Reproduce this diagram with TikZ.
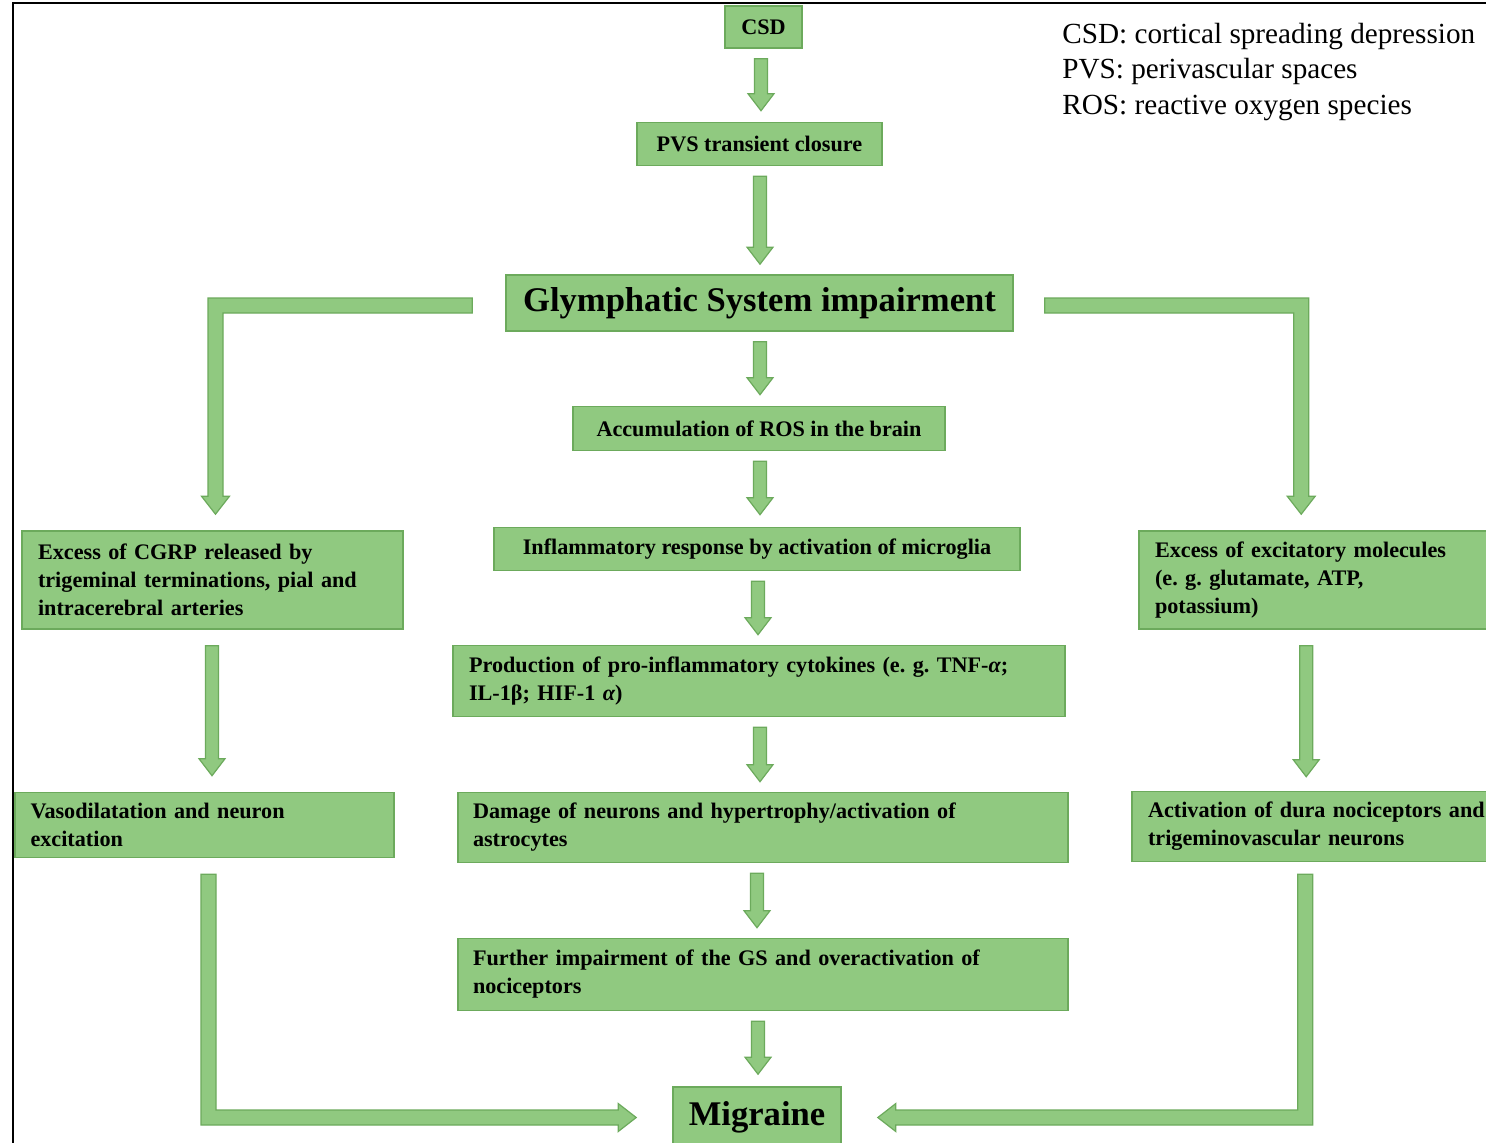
\documentclass[tikz,border=0pt]{standalone}
\usepackage{fontspec}
\setmainfont{Liberation Serif}
\usetikzlibrary{calc}
\definecolor{gfill}{RGB}{144,201,128}
\definecolor{gdraw}{RGB}{108,170,92}
% straight block arrow pointing down; tip x taken from #2
\newcommand{\dnarrow}[2]{%
  \path[blk] let \p1=(#1), \p2=(#2) in
    (\x2-3.25pt,\y1) -- (\x2+3.25pt,\y1) -- (\x2+3.25pt,\y2+8.5pt) -- (\x2+6.5pt,\y2+8.5pt)
    -- (\x2,\y2) -- (\x2-6.5pt,\y2+8.5pt) -- (\x2-3.25pt,\y2+8.5pt) -- cycle;}
% elbow: from start go left, then down to tip
\newcommand{\leftdown}[2]{%
  \path[blk] let \p1=(#1), \p2=(#2) in
    (\x1,\y1+3.75pt) -- (\x2-3.75pt,\y1+3.75pt) -- (\x2-3.75pt,\y2+9pt) -- (\x2-7pt,\y2+9pt)
    -- (\x2,\y2) -- (\x2+7pt,\y2+9pt) -- (\x2+3.75pt,\y2+9pt) -- (\x2+3.75pt,\y1-3.75pt)
    -- (\x1,\y1-3.75pt) -- cycle;}
% elbow: from start go right, then down to tip
\newcommand{\rightdown}[2]{%
  \path[blk] let \p1=(#1), \p2=(#2) in
    (\x1,\y1+3.75pt) -- (\x2+3.75pt,\y1+3.75pt) -- (\x2+3.75pt,\y2+9pt) -- (\x2+7pt,\y2+9pt)
    -- (\x2,\y2) -- (\x2-7pt,\y2+9pt) -- (\x2-3.75pt,\y2+9pt) -- (\x2-3.75pt,\y1-3.75pt)
    -- (\x1,\y1-3.75pt) -- cycle;}
% elbow: from start go down, then right to tip
\newcommand{\downright}[2]{%
  \path[blk] let \p1=(#1), \p2=(#2) in
    (\x1-3.75pt,\y1) -- (\x1-3.75pt,\y2-3.75pt) -- (\x2-9pt,\y2-3.75pt) -- (\x2-9pt,\y2-7pt)
    -- (\x2,\y2) -- (\x2-9pt,\y2+7pt) -- (\x2-9pt,\y2+3.75pt) -- (\x1+3.75pt,\y2+3.75pt)
    -- (\x1+3.75pt,\y1) -- cycle;}
% elbow: from start go down, then left to tip
\newcommand{\downleft}[2]{%
  \path[blk] let \p1=(#1), \p2=(#2) in
    (\x1+3.75pt,\y1) -- (\x1+3.75pt,\y2-3.75pt) -- (\x2+9pt,\y2-3.75pt) -- (\x2+9pt,\y2-7pt)
    -- (\x2,\y2) -- (\x2+9pt,\y2+7pt) -- (\x2+9pt,\y2+3.75pt) -- (\x1-3.75pt,\y2+3.75pt)
    -- (\x1-3.75pt,\y1) -- cycle;}
\tikzset{
  box/.style={draw=gdraw, fill=gfill, line width=0.8pt, inner sep=0pt,
    font=\bfseries\fontsize{11.1}{14}\selectfont},
  bigbox/.style={box, font=\bfseries\fontsize{17.3}{20}\selectfont},
  mbox/.style={box, align=left},
  blk/.style={fill=gfill, draw=gdraw, line width=0.6pt, line join=miter},
  legend/.style={font=\fontsize{14.6}{17.5}\selectfont, anchor=base west, inner sep=0pt},
  frame/.style={draw=black, line width=1.1pt},
}
\begin{document}
\begin{tikzpicture}[x=0.5pt, y=-0.5pt]
\clip (0,0) rectangle (1486,1142);
\fill[white] (0,0) rectangle (1486,1142);
\draw[frame] (13,1150) -- (13,3) -- (1495,3);

% legend
\node[legend] (lg1) at (1062,43) {CSD: cortical spreading depression};
\node[legend] (lg2) at (1062,78) {PVS: perivascular spaces};
\node[legend] (lg3) at (1062,114) {ROS: reactive oxygen species};

% central column
\node[box, minimum width=38.5pt, minimum height=21pt] (csd) at (763.5,27) {CSD};
\node[box, minimum width=122.5pt, minimum height=21.5pt] (pvs) at (759.5,144) {PVS transient closure};
\node[bigbox, minimum width=253.5pt, minimum height=28pt] (glym) at (759.5,303) {Glymphatic System impairment};
\node[box, minimum width=186pt, minimum height=22pt] (ros) at (759,428.5) {Accumulation of ROS in the brain};
\node[box, minimum width=263pt, minimum height=21.5pt] (infl) at (757,549) {Inflammatory response by activation of microglia};
\node[mbox, minimum width=306pt, minimum height=35.5pt, text width=290pt] (prod) at (759,681)
  {Production of pro-inflammatory cytokines (e.\ g.\ TNF-{\itshape α};\\IL-1β; HIF-1 {\itshape α})};
\node[mbox, minimum width=305pt, minimum height=35pt, text width=290pt] (dmg) at (763,827.5)
  {Damage of neurons and hypertrophy/activation of\\astrocytes};
\node[mbox, minimum width=305pt, minimum height=36pt, text width=290pt] (fur) at (763,974.5)
  {Further impairment of the GS and overactivation of\\nociceptors};
\node[bigbox, minimum width=84pt, minimum height=30pt] (mig) at (757,1117) {Migraine};

% left column
\node[mbox, minimum width=190.5pt, minimum height=49pt, text width=174.5pt] (cgrp) at (212.5,580)
  {Excess of CGRP released by\\trigeminal terminations, pial and\\intracerebral arteries};
\node[mbox, minimum width=189.5pt, minimum height=32.5pt, text width=174pt] (vaso) at (204.5,825)
  {Vasodilatation and neuron\\excitation};

% right column
\node[mbox, minimum width=195.5pt, minimum height=49pt, text width=179.5pt] (exc) at (1334.5,580)
  {Excess of excitatory molecules\\(e.\ g.\ glutamate, ATP,\\potassium)};
\node[mbox, minimum width=199pt, minimum height=35pt, text width=183pt] (act) at (1331,826.5)
  {Activation of dura nociceptors and\\trigeminovascular neurons};

% central arrows
\dnarrow{$(csd.south)+(0,10)$}{$(pvs.north)+(1.5,-11)$}
\dnarrow{$(pvs.south)+(0,10)$}{$(glym.north)+(0.5,-10)$}
\dnarrow{$(glym.south)+(0,10)$}{$(ros.north)+(1,-11)$}
\dnarrow{$(ros.south)+(0,10)$}{$(infl.north)+(3,-12)$}
\dnarrow{$(infl.south)+(0,10)$}{$(prod.north)+(-1,-10)$}
\dnarrow{$(prod.south)+(0,10)$}{$(dmg.north)+(-3,-10)$}
\dnarrow{$(dmg.south)+(0,10)$}{$(fur.north)+(-6,-10)$}
\dnarrow{$(fur.south)+(0,10)$}{$(mig.north)+(1,-12)$}

% side arrows
\dnarrow{$(cgrp.south)+(0,16)$}{$(vaso.north)+(7.5,-16)$}
\dnarrow{$(exc.south)+(0,16)$}{$(act.north west)+(175,-14)$}

% elbow arrows from Glymphatic System impairment
\leftdown{$(glym.west)+(-33,2.5)$}{$(cgrp.north)+(3,-16)$}
\rightdown{$(glym.east)+(31,2.5)$}{$(exc.north west)+(163,-16)$}

% elbow arrows into Migraine
\downright{$(vaso.south)+(4,16)$}{$(mig.west)+(-36,0.5)$}
\downleft{$(act.south west)+(174,12)$}{$(mig.east)+(36,0.5)$}
\end{tikzpicture}
\end{document}
